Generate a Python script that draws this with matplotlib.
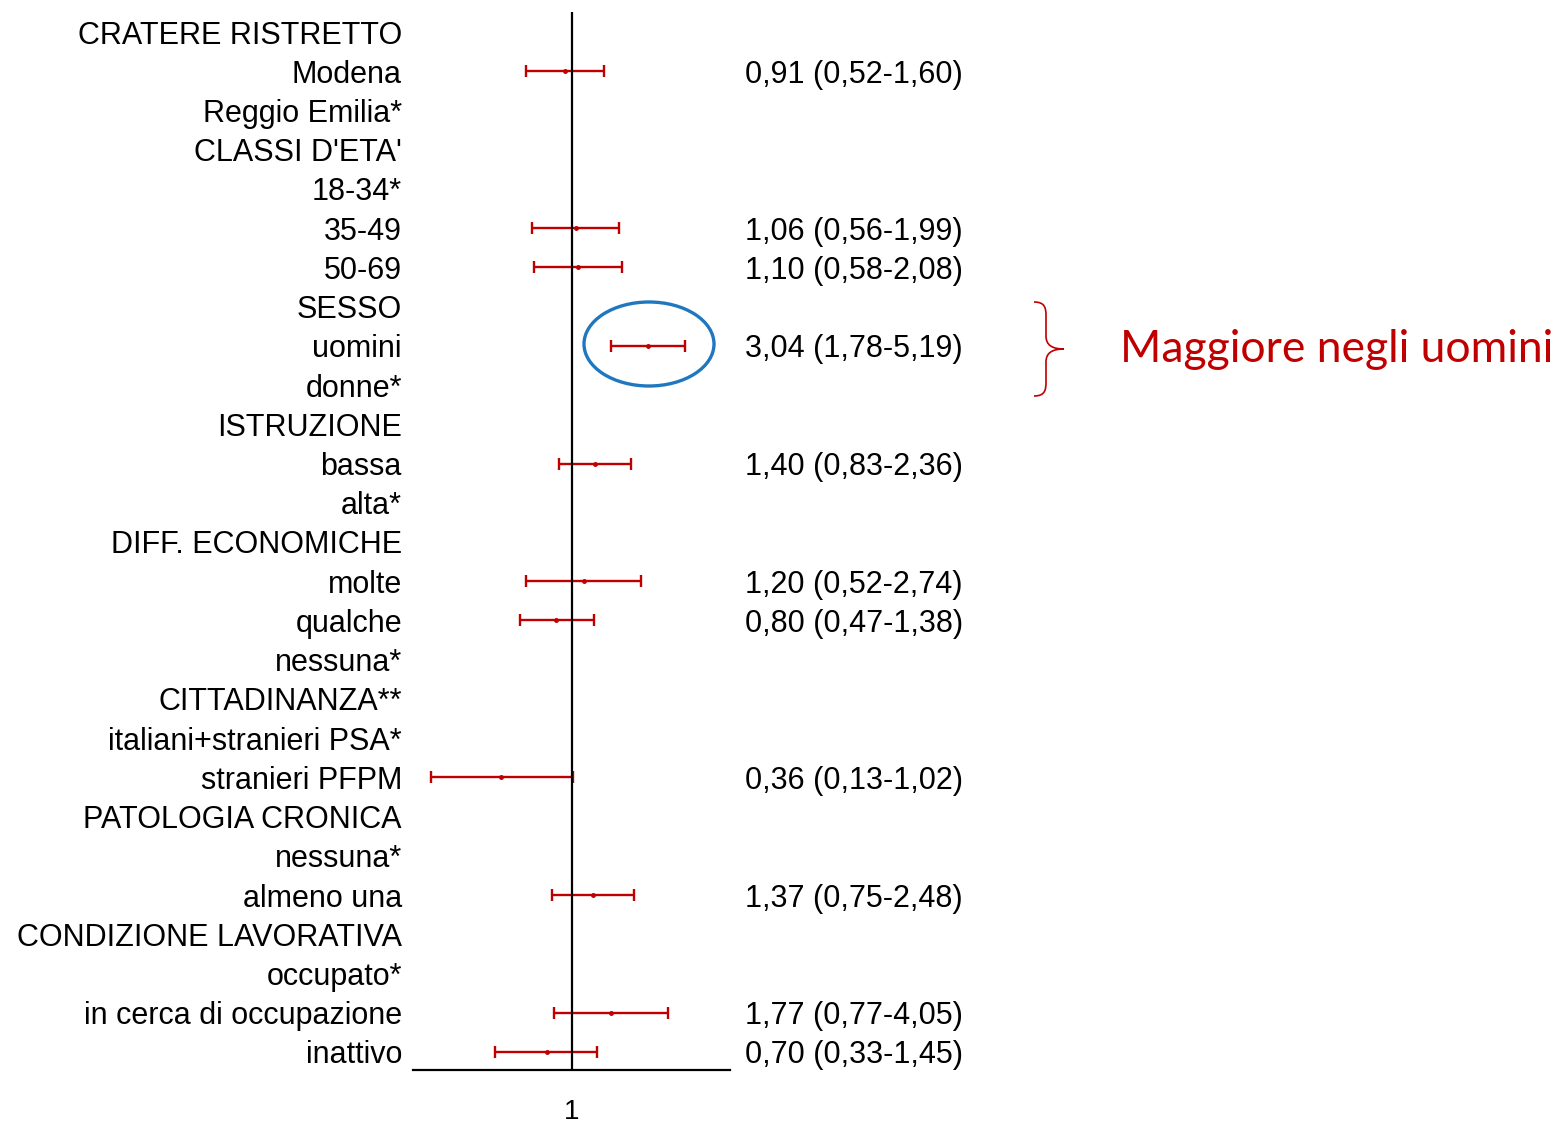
import matplotlib
matplotlib.use("Agg")
import matplotlib.pyplot as plt
import numpy as np
from matplotlib.patches import Ellipse, PathPatch
from matplotlib.path import Path

# rows of the forest plot, top to bottom
labels = ["CRATERE RISTRETTO", "Modena", "Reggio Emilia*",
          "CLASSI D'ETA'", "18-34*", "35-49", "50-69",
          "SESSO", "uomini", "donne*",
          "ISTRUZIONE", "bassa", "alta*",
          "DIFF. ECONOMICHE", "molte", "qualche", "nessuna*",
          "CITTADINANZA**", "italiani+stranieri PSA*", "stranieri PFPM",
          "PATOLOGIA CRONICA", "nessuna*", "almeno una",
          "CONDIZIONE LAVORATIVA", "occupato*", "in cerca di occupazione",
          "inattivo"]

# rows that have an estimate
est_rows = [1, 5, 6, 8, 11, 14, 15, 19, 22, 25, 26]
or_val = [0.91, 1.06, 1.10, 3.04, 1.40, 1.20, 0.80, 0.36, 1.37, 1.77, 0.70]
ci_lo = [0.52, 0.56, 0.58, 1.78, 0.83, 0.52, 0.47, 0.13, 0.75, 0.77, 0.33]
ci_hi = [1.60, 1.99, 2.08, 5.19, 2.36, 2.74, 1.38, 1.02, 2.48, 4.05, 1.45]

W, H = 1560, 1123
RED = "#C00000"


def px(x, y):
    return x / W, 1 - y / H


plt.rcParams['font.family'] = ['Liberation Sans', 'DejaVu Sans']

fig = plt.figure(figsize=(W / 100, H / 100), dpi=100)
ax = fig.add_axes([413 / W, 1 - 1070 / H, (730 - 413) / W, (1070 - 12) / H])

or_val = np.array(or_val)
xerr = [or_val - np.array(ci_lo), np.array(ci_hi) - or_val]
ax.errorbar(or_val, est_rows, xerr=xerr, fmt='o', markersize=2.5,
            color=RED, ecolor=RED, elinewidth=1.7, capsize=4, capthick=1.7)

ax.axvline(1, color="black", lw=1.6)
ax.set_xscale("log")
ax.set_xlim(0.1, 10)
ax.set_ylim(26.46, -0.51)

ax.set_xticks([1])
ax.set_xticklabels(["1"])
ax.xaxis.set_minor_locator(matplotlib.ticker.NullLocator())
ax.tick_params(axis='x', length=0, pad=21, labelsize=20)

ax.set_yticks(range(len(labels)))
ax.set_yticklabels(labels)
ax.tick_params(axis='y', length=0, pad=8, labelsize=22)

for s in ["top", "right", "left"]:
    ax.spines[s].set_visible(False)
ax.spines["bottom"].set_linewidth(1.6)

# OR (CI) column
for r, v, lo, hi in zip(est_rows, or_val, ci_lo, ci_hi):
    txt = f"{v:.2f} ({lo:.2f}-{hi:.2f})".replace(".", ",")
    ax.text(1.047, r, txt, transform=ax.get_yaxis_transform(),
            ha="left", va="center_baseline", fontsize=22)

# highlight on uomini
cx, cy = px(649, 344)
fig.patches.append(Ellipse((cx, cy), 130 / W, 84 / H, transform=fig.transFigure,
                           fill=False, edgecolor="#1F77C0", lw=2.4))

# curly brace
pts = [(1034, 302), (1045, 302), (1046, 308), (1046, 316),
       (1046, 336), (1046, 345), (1052, 349), (1064, 349),
       (1052, 349), (1046, 353), (1046, 362),
       (1046, 382), (1046, 390), (1045, 396), (1034, 396)]
codes = [Path.MOVETO, Path.CURVE4, Path.CURVE4, Path.CURVE4,
         Path.LINETO, Path.CURVE4, Path.CURVE4, Path.CURVE4,
         Path.CURVE4, Path.CURVE4, Path.CURVE4,
         Path.LINETO, Path.CURVE4, Path.CURVE4, Path.CURVE4]
brace = Path([px(x, y) for x, y in pts], codes)
fig.patches.append(PathPatch(brace, transform=fig.transFigure, fill=False,
                             edgecolor=RED, lw=1.2))

tx, ty = px(1120, 349)
fig.text(tx, ty, "Maggiore negli uomini", color=RED, fontsize=32,
         family=['Lato', 'DejaVu Sans'], ha="left", va="center")

fig.savefig("out.png", dpi=100, facecolor="white")
